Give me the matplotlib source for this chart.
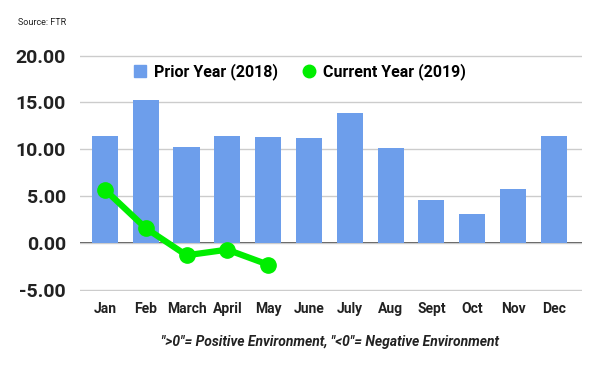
import matplotlib
matplotlib.use('Agg')
import matplotlib.pyplot as plt
from matplotlib.lines import Line2D
import numpy as np

# monthly values
months = ['Jan', 'Feb', 'March', 'April', 'May', 'June', 'July', 'Aug', 'Sept', 'Oct', 'Nov', 'Dec']
prior_2018 = [11.4, 15.3, 10.2, 11.4, 11.3, 11.2, 13.9, 10.1, 4.6, 3.1, 5.8, 11.4]
current_2019 = [5.7, 1.6, -1.3, -0.7, -2.3]
yticks = [-5, 0, 5, 10, 15, 20]

bar_color = '#6d9eeb'
line_color = '#00ee00'

plt.rcParams['font.family'] = ['Roboto', 'DejaVu Sans']

fig = plt.figure(figsize=(6, 3.71), dpi=100)
ax = fig.add_axes([0.1333, 0.2159, 0.8367, 0.6367])

x = np.arange(len(months))
ax.bar(x, prior_2018, width=0.64, color=bar_color, zorder=2)
ax.plot(x[:len(current_2019)], current_2019, color=line_color, lw=4.5, marker='o',
        markersize=11, zorder=3)

ax.set_xlim(-0.61, 11.69)
ax.set_ylim(-5.1, 20.1)
ax.set_yticks(yticks)
ax.set_yticklabels([f'{v:.2f}' for v in yticks], fontsize=14, fontweight='bold', color='#222222')
ax.set_xticks(x)
ax.set_xticklabels(months, fontsize=10, fontweight='bold', color='#222222')
ax.tick_params(length=0)
ax.tick_params(axis='y', pad=10)
ax.tick_params(axis='x', pad=8)
ax.grid(axis='y', color='#cccccc', lw=1, zorder=0)
ax.axhline(0, color='#333333', lw=1.2, zorder=1)
for s in ax.spines.values():
    s.set_visible(False)

# legend with plain square / circle markers like the original
handles = [
    Line2D([], [], ls='none', marker='s', markersize=9, color=bar_color),
    Line2D([], [], ls='none', marker='o', markersize=9, color=line_color),
]
ax.legend(handles, ['Prior Year (2018)', 'Current Year (2019)'], loc='center',
          bbox_to_anchor=(0.438, 0.927), ncol=2, frameon=False,
          prop={'size': 11.5, 'weight': 'bold'}, handlelength=0.8, handletextpad=0.5,
          columnspacing=1.5)

fig.text(0.03, 0.932, 'Source: FTR', fontsize=6.5, color='#222222')
fig.text(0.55, 0.078, '">0"= Positive Environment, "<0"= Negative Environment',
         fontsize=10, fontweight='bold', style='italic', ha='center', va='center', color='#222222')

fig.savefig('out.png', dpi=100)
